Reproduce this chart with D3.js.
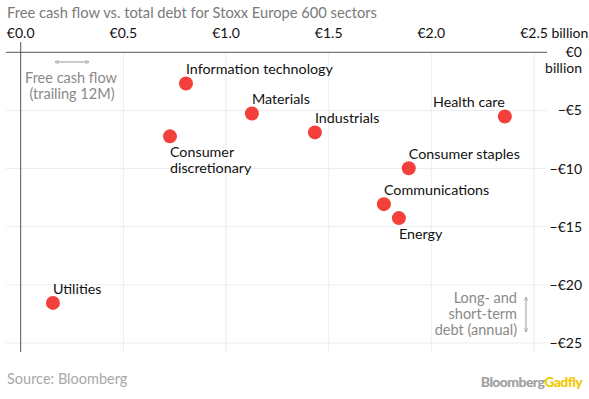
<!DOCTYPE html>
<html><head><meta charset="utf-8">
<script src="https://cdn.jsdelivr.net/npm/d3@7"></script>
<style>
body{margin:0;background:#fff;}
svg{display:block;font-family:Lato,"Open Sans",sans-serif;}
</style></head>
<body><svg id="c" width="589" height="399"></svg>
<script>
const sectors = ["Utilities","Information technology","Materials","Consumer discretionary","Industrials","Health care","Consumer staples","Communications","Energy"];
const freeCashFlow = [0.157, 0.805, 1.126, 0.727, 1.433, 2.358, 1.89, 1.769, 1.842];
const totalDebt = [-21.55, -2.68, -5.26, -7.23, -6.89, -5.52, -9.97, -13.06, -14.26];
const labelPlacement = ["above","above","above","below","above","aboveEnd","above","above","below"];
const xTicks = [0, 0.5, 1.0, 1.5, 2.0, 2.5];
const xTickLabels = ["€0.0","€0.5","€1.0","€1.5","€2.0","€2.5"];
const yTicks = [0, -5, -10, -15, -20, -25];
const yTickLabels = ["€0","−€5","−€10","−€15","−€20","−€25"];

const svg = d3.select("#c");
const x = d3.scaleLinear().domain([0, 2.5]).range([20.7, 534]);
const y = d3.scaleLinear().domain([0, -25]).range([52.3, 343]);
const plotLeft = 6, plotRight = 547, plotBottom = 352;

// title
svg.append("text").attr("x",7).attr("y",18).attr("fill","#7a7a7a").attr("font-size",14.7)
  .text("Free cash flow vs. total debt for Stoxx Europe 600 sectors");

// vertical gridlines
svg.append("g").selectAll("line").data(xTicks.slice(1)).join("line")
  .attr("x1",d=>x(d)).attr("x2",d=>x(d)).attr("y1",y(0)).attr("y2",plotBottom)
  .attr("stroke","#ececf4").attr("stroke-width",1);
// horizontal gridlines
svg.append("g").selectAll("line").data(yTicks.slice(1)).join("line")
  .attr("x1",plotLeft).attr("x2",plotRight).attr("y1",d=>y(d)).attr("y2",d=>y(d))
  .attr("stroke","#ececf4").attr("stroke-width",1);
// zero axes
svg.append("line").attr("x1",plotLeft).attr("x2",plotRight).attr("y1",y(0)).attr("y2",y(0))
  .attr("stroke","#555").attr("stroke-width",1);
svg.append("line").attr("x1",x(0)).attr("x2",x(0)).attr("y1",42).attr("y2",plotBottom)
  .attr("stroke","#555").attr("stroke-width",1);

// top x tick labels
const xt = svg.append("g").attr("font-size",14).attr("fill","#111");
xTicks.forEach((t,i)=>{
  if (i === xTicks.length-1) {
    const tx = xt.append("text").attr("x",x(t)).attr("y",38).attr("text-anchor","start");
    tx.text(xTickLabels[i] + " billion");
    const w = xt.append("text").attr("visibility","hidden").text(xTickLabels[i]).node().getComputedTextLength();
    tx.attr("x", x(t) - w/2);
  } else {
    xt.append("text").attr("x",x(t)).attr("y",38).attr("text-anchor","middle").text(xTickLabels[i]);
  }
});
// right y tick labels
const yt = svg.append("g").attr("font-size",14).attr("fill","#111").attr("text-anchor","end");
yTicks.forEach((t,i)=>{
  yt.append("text").attr("x",582).attr("y",y(t)+5).text(yTickLabels[i]);
});
yt.append("text").attr("x",582).attr("y",y(0)+21).text("billion");

// arrow marker
const defs = svg.append("defs");
defs.append("marker").attr("id","ah").attr("viewBox","0 0 10 10").attr("refX",9).attr("refY",5)
  .attr("markerWidth",5).attr("markerHeight",5).attr("orient","auto-start-reverse")
  .append("path").attr("d","M1,1 L9,5 L1,9").attr("fill","none").attr("stroke","#999").attr("stroke-width",1.3);

// free cash flow annotation
svg.append("line").attr("x1",55).attr("x2",89).attr("y1",62).attr("y2",62)
  .attr("stroke","#999").attr("stroke-width",1).attr("marker-start","url(#ah)").attr("marker-end","url(#ah)");
const fa = svg.append("g").attr("font-size",14.5).attr("fill","#8a8a8a").attr("text-anchor","middle");
fa.append("text").attr("x",71).attr("y",83).text("Free cash flow");
fa.append("text").attr("x",72).attr("y",99).text("(trailing 12M)");

// debt annotation
const da = svg.append("g").attr("font-size",14.5).attr("fill","#8a8a8a").attr("text-anchor","end");
da.append("text").attr("x",517).attr("y",303).text("Long- and");
da.append("text").attr("x",517).attr("y",319).text("short-term");
da.append("text").attr("x",517).attr("y",335).text("debt (annual)");
svg.append("line").attr("x1",526).attr("x2",526).attr("y1",297).attr("y2",332)
  .attr("stroke","#999").attr("stroke-width",1).attr("marker-start","url(#ah)").attr("marker-end","url(#ah)");

// points
const data = sectors.map((s,i)=>({s, fx:freeCashFlow[i], d:totalDebt[i], p:labelPlacement[i]}));
svg.append("g").selectAll("circle").data(data).join("circle")
  .attr("cx",d=>x(d.fx)).attr("cy",d=>y(d.d)).attr("r",7).attr("fill","#f4403a");

// labels
const lg = svg.append("g").attr("font-size",14.3).attr("fill","#111");
data.forEach(d=>{
  const px = x(d.fx), py = y(d.d);
  if (d.p === "above") {
    lg.append("text").attr("x",px).attr("y",py-9).text(d.s);
  } else if (d.p === "aboveEnd") {
    lg.append("text").attr("x",px).attr("y",py-9).attr("text-anchor","end").text(d.s);
  } else {
    const words = d.s.split(" ");
    words.forEach((w,k)=>{
      lg.append("text").attr("x",px).attr("y",py+21+k*16).text(w);
    });
  }
});

// footer
svg.append("text").attr("x",7).attr("y",384).attr("font-size",14.5).attr("fill","#a8a8a8").text("Source: Bloomberg");
const brand = svg.append("text").attr("x",582).attr("y",387).attr("text-anchor","end")
  .attr("font-size",14).attr("font-weight","900").attr("letter-spacing",-0.6);
brand.append("tspan").attr("fill","#a0a0a0").text("Bloomberg");
brand.append("tspan").attr("fill","#f2c800").text("Gadfly");
</script></body></html>
